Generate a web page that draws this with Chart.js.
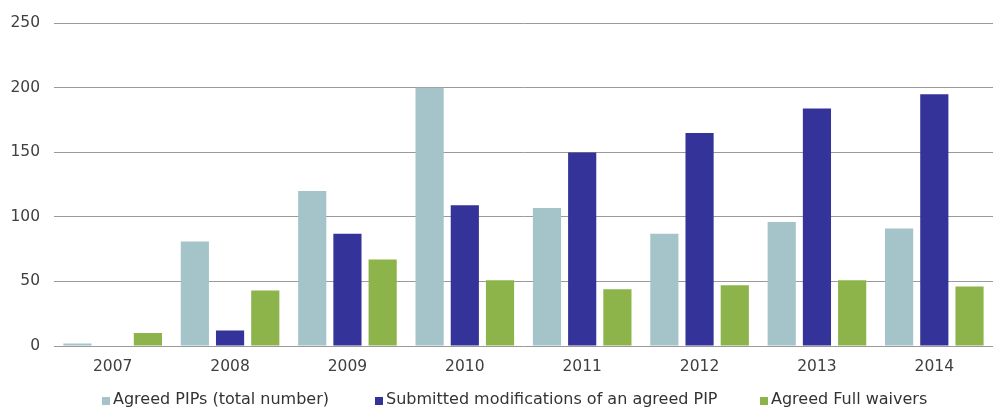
<!DOCTYPE html>
<html>
<head>
<meta charset="utf-8">
<script src="https://cdn.jsdelivr.net/npm/chart.js@4/dist/chart.umd.min.js"></script>
<style>
  html, body { margin: 0; padding: 0; background: #ffffff; }
  #wrap { width: 995px; height: 409px; position: relative; }
</style>
</head>
<body>
<div id="wrap"><canvas id="chart" width="995" height="409"></canvas></div>
<script>
// Years on the category axis
const years = ['2007', '2008', '2009', '2010', '2011', '2012', '2013', '2014'];

// Series values per year
const agreedPIPs = [2, 81, 120, 200, 107, 87, 96, 91];
const submittedModifications = [0, 12, 87, 109, 150, 165, 184, 195];
const agreedFullWaivers = [10, 43, 67, 51, 44, 47, 51, 46];

// Series names
const seriesNames = [
  'Agreed PIPs (total number)',
  'Submitted modifications of an agreed PIP',
  'Agreed Full waivers'
];

// Value axis ticks
const yTicks = [0, 50, 100, 150, 200, 250];

const colors = ['#a4c4c9', '#333399', '#8db44b'];
const FONT = '"DejaVu Sans", Verdana, sans-serif';

// Legend row under the plot: small square swatch followed by the series name
const legendSwatchX = [102, 375, 760];
const bottomLegend = {
  id: 'bottomLegend',
  afterDraw(chart) {
    const ctx = chart.ctx;
    const box = 8, textGap = 3, y = 401;
    ctx.save();
    ctx.font = '16px ' + FONT;
    ctx.textBaseline = 'middle';
    chart.data.datasets.forEach((ds, i) => {
      const x = legendSwatchX[i];
      ctx.fillStyle = ds.backgroundColor;
      ctx.fillRect(x, y - 4, box, box);
      ctx.fillStyle = '#333333';
      ctx.fillText(ds.label, x + box + textGap, y - 1);
    });
    ctx.restore();
  }
};

new Chart(document.getElementById('chart'), {
  type: 'bar',
  data: {
    labels: years,
    datasets: [
      { label: seriesNames[0], data: agreedPIPs, backgroundColor: colors[0] },
      { label: seriesNames[1], data: submittedModifications, backgroundColor: colors[1] },
      { label: seriesNames[2], data: agreedFullWaivers, backgroundColor: colors[2] }
    ]
  },
  options: {
    responsive: false,
    animation: false,
    devicePixelRatio: 1,
    layout: { padding: { top: 20, right: 2, bottom: 29, left: 0 } },
    datasets: {
      bar: { categoryPercentage: 0.9, barPercentage: 0.8, borderWidth: 0 }
    },
    plugins: {
      legend: { display: false },
      tooltip: { enabled: false }
    },
    scales: {
      x: {
        grid: { display: false, drawTicks: false },
        border: { display: false },
        ticks: { color: '#404040', font: { family: FONT, size: 15.5 }, padding: 12, maxRotation: 0 },
        afterFit(scale) { scale.height = 34; }
      },
      y: {
        min: 0,
        max: 250,
        afterBuildTicks(scale) { scale.ticks = yTicks.map(v => ({ value: v })); },
        grid: { color: '#9a9a9a', lineWidth: 1, drawTicks: false },
        border: { display: false },
        ticks: { color: '#404040', font: { family: FONT, size: 15.5 }, padding: 14 },
        afterFit(scale) { scale.width = 54; }
      }
    }
  },
  plugins: [bottomLegend]
});
</script>
</body>
</html>
